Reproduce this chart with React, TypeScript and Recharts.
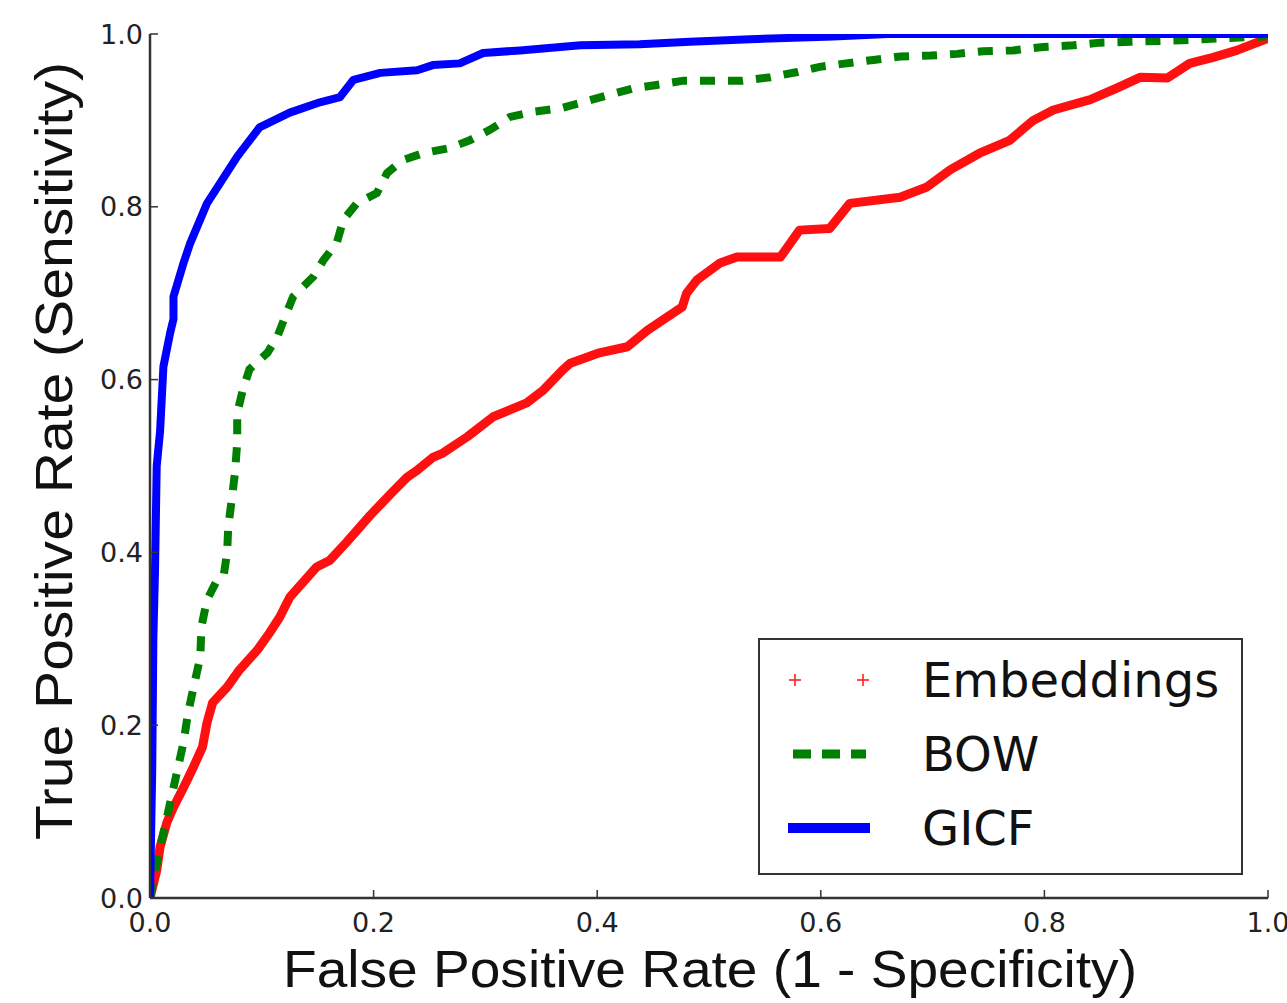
import React from 'react';
import { LineChart, Line, XAxis, YAxis, Legend, Label } from 'recharts';

// axis ticks (both axes)
const ticks = [0, 0.2, 0.4, 0.6, 0.8, 1.0];

// Embeddings ROC (red "+" markers)
const embFpr = [0, 0.006, 0.009, 0.015, 0.021, 0.03, 0.039, 0.047, 0.051, 0.056, 0.069, 0.08, 0.096, 0.107, 0.116, 0.125, 0.149, 0.161, 0.176, 0.197, 0.217, 0.23, 0.239, 0.253, 0.262, 0.284, 0.307, 0.337, 0.352, 0.369, 0.376, 0.402, 0.427, 0.445, 0.468, 0.476, 0.48, 0.489, 0.51, 0.525, 0.564, 0.581, 0.608, 0.626, 0.671, 0.695, 0.716, 0.742, 0.769, 0.79, 0.808, 0.841, 0.865, 0.886, 0.91, 0.93, 0.951, 0.972, 0.996, 1];
const embTpr = [0, 0.032, 0.059, 0.087, 0.105, 0.128, 0.152, 0.175, 0.203, 0.226, 0.244, 0.264, 0.287, 0.307, 0.325, 0.348, 0.383, 0.391, 0.412, 0.443, 0.47, 0.487, 0.495, 0.51, 0.515, 0.534, 0.557, 0.573, 0.588, 0.611, 0.619, 0.631, 0.638, 0.657, 0.677, 0.684, 0.7, 0.715, 0.735, 0.742, 0.742, 0.773, 0.775, 0.804, 0.811, 0.823, 0.843, 0.862, 0.877, 0.9, 0.912, 0.924, 0.9375, 0.95, 0.949, 0.966, 0.973, 0.981, 0.993, 0.995];

// BOW ROC (green dashed)
const bowFpr = [0, 0.006, 0.012, 0.018, 0.024, 0.03, 0.034, 0.039, 0.045, 0.046, 0.051, 0.06, 0.066, 0.069, 0.07, 0.073, 0.076, 0.078, 0.078, 0.083, 0.089, 0.105, 0.114, 0.12, 0.128, 0.146, 0.155, 0.167, 0.173, 0.185, 0.203, 0.212, 0.226, 0.244, 0.268, 0.286, 0.304, 0.322, 0.343, 0.367, 0.387, 0.409, 0.432, 0.453, 0.477, 0.53, 0.555, 0.579, 0.599, 0.623, 0.647, 0.671, 0.698, 0.722, 0.745, 0.772, 0.799, 0.826, 0.85, 0.877, 0.903, 0.93, 0.957, 0.996, 1];
const bowTpr = [0, 0.04, 0.075, 0.11, 0.145, 0.18, 0.214, 0.244, 0.279, 0.314, 0.345, 0.368, 0.374, 0.4, 0.43, 0.46, 0.492, 0.527, 0.561, 0.588, 0.612, 0.631, 0.65, 0.67, 0.696, 0.719, 0.738, 0.758, 0.785, 0.804, 0.816, 0.839, 0.854, 0.862, 0.868, 0.877, 0.889, 0.904, 0.91, 0.914, 0.921, 0.929, 0.937, 0.941, 0.946, 0.946, 0.95, 0.956, 0.962, 0.966, 0.97, 0.974, 0.975, 0.977, 0.98, 0.981, 0.985, 0.987, 0.99, 0.991, 0.992, 0.993, 0.995, 0.997, 1];

// GICF ROC (blue solid)
const gicfFpr = [0, 0.002, 0.003, 0.0045, 0.006, 0.009, 0.012, 0.018, 0.021, 0.021, 0.03, 0.036, 0.051, 0.063, 0.078, 0.098, 0.125, 0.152, 0.17, 0.182, 0.206, 0.239, 0.253, 0.277, 0.298, 0.331, 0.385, 0.438, 0.483, 0.537, 0.611, 0.66, 1];
const gicfTpr = [0, 0.15, 0.3, 0.38, 0.5, 0.54, 0.615, 0.654, 0.67, 0.696, 0.735, 0.758, 0.804, 0.828, 0.858, 0.892, 0.909, 0.921, 0.927, 0.947, 0.955, 0.958, 0.964, 0.966, 0.978, 0.981, 0.987, 0.988, 0.991, 0.994, 0.997, 1, 1];

const seriesNames = ['Embeddings', 'BOW', 'GICF'];
const xTitle = 'False Positive Rate (1 - Specificity)';
const yTitle = 'True Positive Rate (Sensitivity)';

const toPoints = (xs: number[], ys: number[]) => xs.map((x, i) => ({ x, y: ys[i] }));
const embData = toPoints(embFpr, embTpr);
const bowData = toPoints(bowFpr, bowTpr);
const gicfData = toPoints(gicfFpr, gicfTpr);

const frame = '#333';
const tickFont = { fontFamily: '"DejaVu Sans"', fontSize: 27, fill: '#222' };
const fmt = (v: number) => v.toFixed(1);
const blank = () => '';

function Marker({ idx }: { idx: number }) {
  return (
    <svg width={162} height={74} style={{ display: 'block', flex: 'none' }}>
      {idx === 0 && (
        <g stroke="#ff2020" strokeWidth={1.6}>
          <line x1={29} x2={41} y1={37} y2={37} />
          <line x1={35} x2={35} y1={31} y2={43} />
          <line x1={97} x2={109} y1={37} y2={37} />
          <line x1={103} x2={103} y1={31} y2={43} />
        </g>
      )}
      {idx === 1 && (
        <line x1={33} x2={106} y1={37} y2={37} stroke="#007f00" strokeWidth={9} strokeDasharray="18 11" />
      )}
      {idx === 2 && <line x1={28} x2={110} y1={37} y2={37} stroke="#0000ff" strokeWidth={10} />}
    </svg>
  );
}

function LegendBox() {
  return (
    <div
      style={{
        width: 485,
        height: 237,
        boxSizing: 'border-box',
        border: `2px solid ${frame}`,
        background: '#fff',
        paddingTop: 3,
        fontFamily: '"DejaVu Sans"',
        fontSize: 48,
        color: '#111',
      }}
    >
      {seriesNames.map((name, i) => (
        <div key={name} style={{ display: 'flex', alignItems: 'center', height: 74, lineHeight: '74px' }}>
          <Marker idx={i} />
          <span>{name}</span>
        </div>
      ))}
    </div>
  );
}

export default function App() {
  return (
    <div style={{ position: 'absolute', left: 0, top: 0, background: '#fff' }}>
      <LineChart width={1287} height={1003} margin={{ top: 34, right: 19, bottom: 75, left: 90 }}>
        <XAxis
          type="number"
          dataKey="x"
          domain={[0, 1]}
          allowDataOverflow
          ticks={ticks}
          tickFormatter={fmt}
          tick={tickFont}
          tickSize={-8}
          tickMargin={23}
          height={30}
          axisLine={{ stroke: frame, strokeWidth: 2.5 }}
          tickLine={{ stroke: frame, strokeWidth: 1.5 }}
        >
          <Label
            content={() => (
              <text x={283} y={987} fontFamily="Liberation Sans" fontSize={52} fill="#111" textLength={854} lengthAdjust="spacingAndGlyphs">
                {xTitle}
              </text>
            )}
          />
        </XAxis>
        <XAxis
          xAxisId="top"
          orientation="top"
          type="number"
          dataKey="x"
          domain={[0, 1]}
          allowDataOverflow
          ticks={ticks}
          tickFormatter={blank}
          tickSize={-8}
          height={0}
          axisLine={{ stroke: frame, strokeWidth: 2.5 }}
          tickLine={{ stroke: frame, strokeWidth: 1.5 }}
        />
        <YAxis
          type="number"
          domain={[0, 1]}
          allowDataOverflow
          ticks={ticks}
          tickFormatter={fmt}
          tick={tickFont}
          tickSize={-8}
          tickMargin={15}
          width={60}
          axisLine={{ stroke: frame, strokeWidth: 2.5 }}
          tickLine={{ stroke: frame, strokeWidth: 1.5 }}
        >
          <Label
            content={() => (
              <text transform="rotate(-90)" x={-840} y={72} fontFamily="Liberation Sans" fontSize={52} fill="#111" textLength={778} lengthAdjust="spacingAndGlyphs">
                {yTitle}
              </text>
            )}
          />
        </YAxis>
        <YAxis
          yAxisId="right"
          orientation="right"
          type="number"
          domain={[0, 1]}
          allowDataOverflow
          ticks={ticks}
          tickFormatter={blank}
          tickSize={-8}
          width={0}
          axisLine={{ stroke: frame, strokeWidth: 2.5 }}
          tickLine={{ stroke: frame, strokeWidth: 1.5 }}
        />
        <Line data={embData} dataKey="y" name={seriesNames[0]} type="linear" stroke="#ff1010" strokeWidth={9} strokeLinejoin="round" dot={false} isAnimationActive={false} />
        <Line data={bowData} dataKey="y" name={seriesNames[1]} type="linear" stroke="#007f00" strokeWidth={8} strokeDasharray="15 13" dot={false} isAnimationActive={false} />
        <Line data={gicfData} dataKey="y" name={seriesNames[2]} type="linear" stroke="#0000ff" strokeWidth={8} strokeLinejoin="round" dot={false} isAnimationActive={false} />
        <Legend
          layout="vertical"
          align="center"
          verticalAlign="middle"
          content={() => <LegendBox />}
          wrapperStyle={{ left: 758, top: 638, width: 485, height: 237 }}
        />
      </LineChart>
    </div>
  );
}
